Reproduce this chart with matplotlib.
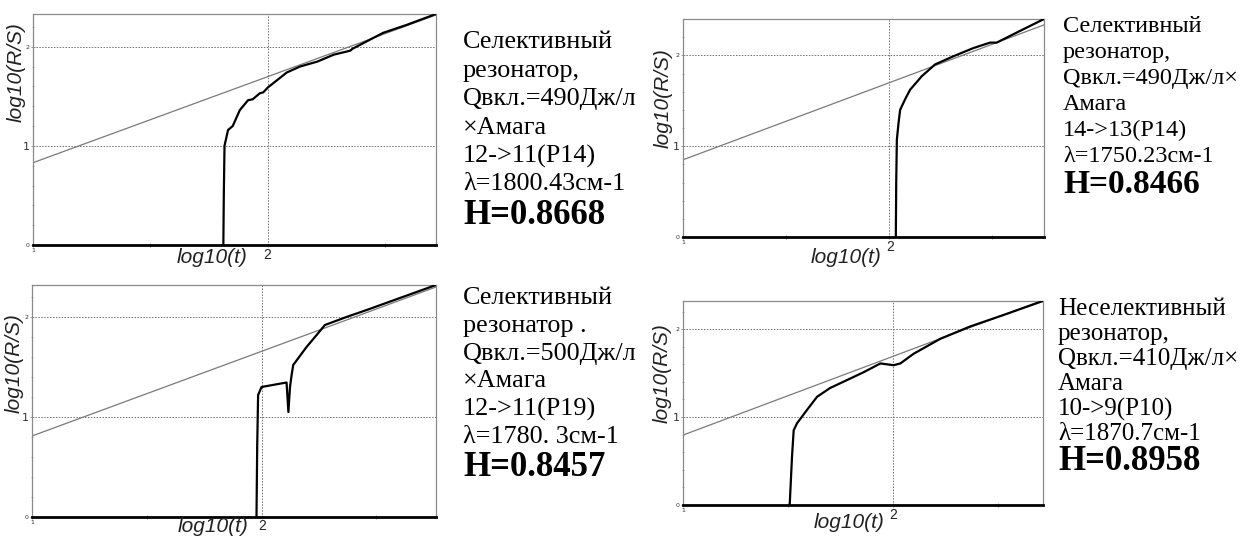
import matplotlib
matplotlib.use("Agg")
import matplotlib.pyplot as plt
import numpy as np

W, H = 1253, 536

# ---- data: log10(t) vs log10(R/S) ----
p1_x = [1.810, 1.812, 1.815, 1.830, 1.850, 1.880, 1.915, 1.935, 1.965, 1.980, 2.000,
        2.080, 2.136, 2.210, 2.280, 2.350, 2.360, 2.490, 2.590, 2.715]
p1_y = [0.00, 0.50, 1.00, 1.16, 1.20, 1.36, 1.46, 1.47, 1.53, 1.54, 1.59,
        1.74, 1.80, 1.85, 1.92, 1.96, 1.98, 2.14, 2.22, 2.33]
fit1_x = [1.0, 2.715]
fit1_y = [0.83, 2.32]

p2_x = [2.034, 2.036, 2.039, 2.047, 2.055, 2.080, 2.103, 2.160, 2.225, 2.314,
        2.411, 2.492, 2.524, 2.621, 2.754]
p2_y = [0.00, 0.60, 1.07, 1.25, 1.40, 1.52, 1.62, 1.77, 1.90, 1.99,
        2.08, 2.14, 2.14, 2.25, 2.40]
fit2_x = [1.0, 2.754]
fit2_y = [0.85, 2.335]

p3_x = [1.978, 1.981, 1.985, 2.000, 2.109, 2.117, 2.124, 2.131, 2.138, 2.196,
        2.240, 2.276, 2.370, 2.458, 2.760]
p3_y = [0.00, 0.70, 1.22, 1.30, 1.345, 1.05, 1.30, 1.42, 1.52, 1.70,
        1.82, 1.92, 2.00, 2.07, 2.32]
fit3_x = [1.0, 2.76]
fit3_y = [0.81, 2.30]

p4_x = [1.508, 1.519, 1.527, 1.543, 1.590, 1.638, 1.700, 1.860, 1.940, 1.970,
        2.003, 2.035, 2.098, 2.225, 2.367, 2.525, 2.714]
p4_y = [0.00, 0.55, 0.85, 0.93, 1.08, 1.23, 1.33, 1.51, 1.61, 1.60,
        1.59, 1.61, 1.72, 1.89, 2.03, 2.16, 2.32]
fit4_x = [1.0, 2.714]
fit4_y = [0.795, 2.33]

xlims = [(1.0, 2.715), (1.0, 2.754), (1.0, 2.76), (1.0, 2.714)]
ylims = [(0.0, 2.33), (0.0, 2.40), (0.0, 2.32), (0.0, 2.32)]

text1 = ["Селективный", "резонатор,", "Qвкл.=490Дж/л", "×Амага", "12->11(P14)",
         "λ=1800.43см-1"]
text2 = ["Селективный", "резонатор,", "Qвкл.=490Дж/л×", "Амага", "14->13(P14)",
         "λ=1750.23см-1"]
text3 = ["Селективный", "резонатор .", "Qвкл.=500Дж/л", "×Амага", "12->11(P19)",
         "λ=1780. 3см-1"]
text4 = ["Неселективный", "резонатор,", "Qвкл.=410Дж/л×", "Амага", "10->9(P10)",
         "λ=1870.7см-1"]
hurst = ["H=0.8668", "H=0.8466", "H=0.8457", "H=0.8958"]

# ---- layout in pixels (left, right, top, bottom of each plot box) ----
boxes = [(33, 436, 14, 245), (683, 1044, 19, 237), (32, 436, 285, 517), (683, 1043, 301, 505)]
xlabel_at = [(212, 257), (846, 257), (213, 526), (849, 523)]
two_at = [(267, 255), (890, 247), (262, 526), (893, 515)]
ylabel_at = [(16, 72), (663, 98), (14, 363), (662, 373)]
# x, first line y, line step, regular size, bold size
text_at = [(463, 42, 28.5, 18.8, 25), (1063, 27, 25.8, 17.5, 24),
           (463, 298, 27.8, 18.8, 25), (1058, 309, 25.0, 18.0, 25)]


def fx(px):
    return px / W


def fy(py):
    return 1 - py / H


def draw_panel(fig, i, cx, cy, fx_, fy_, lines):
    left, right, top, bottom = boxes[i]
    ax = fig.add_axes([fx(left), fy(bottom), (right - left) / W, (bottom - top) / H])
    ax.set_xlim(*xlims[i])
    ax.set_ylim(*ylims[i])

    for y in (1, 2):
        ax.axhline(y, color="#707070", lw=0.7, ls=(0, (1.5, 1.5)), zorder=1)
    ax.axvline(2, color="#707070", lw=0.7, ls=(0, (1.5, 1.5)), zorder=1)

    ax.plot(fx_, fy_, color="#7a7a7a", lw=0.9, zorder=2)
    ax.plot(cx, cy, color="black", lw=1.6, zorder=3, solid_joinstyle="round")

    for side in ("left", "top", "right"):
        ax.spines[side].set_color("#8a8a8a")
        ax.spines[side].set_linewidth(0.9)
    ax.spines["bottom"].set_color("black")
    ax.spines["bottom"].set_linewidth(2.0)

    ax.set_xticks([1, 1.5, 2, 2.5])
    ax.set_xticklabels(["1", "", "", ""])
    ax.set_yticks([0, 1, 2])
    ax.set_yticklabels(["0", "1", "2"])
    ax.set_yticks(np.arange(0.2, ylims[i][1], 0.2), minor=True)
    ax.tick_params(axis="both", which="major", length=3, width=0.6, color="#8a8a8a",
                   labelsize=4.5, pad=1, direction="inout", labelcolor="#333333")
    ax.tick_params(axis="y", which="minor", length=2, width=0.5, color="#8a8a8a",
                   direction="inout")
    ax.get_yticklabels()[1].set_fontsize(8)

    ff = dict(family=["Liberation Sans", "DejaVu Sans"], style="italic", color="#222222")
    xl, yl = xlabel_at[i]
    fig.text(fx(xl), fy(yl), "log10(t)", ha="center", va="center", fontsize=15, **ff)
    tx, ty = two_at[i]
    fig.text(fx(tx), fy(ty), "2", ha="center", va="center", fontsize=10,
             family=["Liberation Sans", "DejaVu Sans"], color="#222222")
    yx, yy = ylabel_at[i]
    fig.text(fx(yx), fy(yy), "log10(R/S)", ha="center", va="center", fontsize=15,
             rotation=90, **ff)

    tx0, ty0, step, size, bsize = text_at[i]
    for k, line in enumerate(lines):
        fig.text(fx(tx0), fy(ty0 + k * step), line, ha="left", va="center", fontsize=size,
                 family=["Liberation Serif", "DejaVu Serif"], color="black")
    fig.text(fx(tx0), fy(ty0 + len(lines) * step + 3), hurst[i], ha="left", va="center",
             fontsize=bsize, fontweight="bold", family=["Liberation Serif", "DejaVu Serif"],
             color="black")
    return ax


def main() -> None:
    fig = plt.figure(figsize=(W / 100, H / 100), dpi=100)
    fig.patch.set_facecolor("white")
    draw_panel(fig, 0, p1_x, p1_y, fit1_x, fit1_y, text1)
    draw_panel(fig, 1, p2_x, p2_y, fit2_x, fit2_y, text2)
    draw_panel(fig, 2, p3_x, p3_y, fit3_x, fit3_y, text3)
    draw_panel(fig, 3, p4_x, p4_y, fit4_x, fit4_y, text4)
    fig.savefig("out.png", dpi=100)
    plt.close(fig)


if __name__ == "__main__":
    main()
